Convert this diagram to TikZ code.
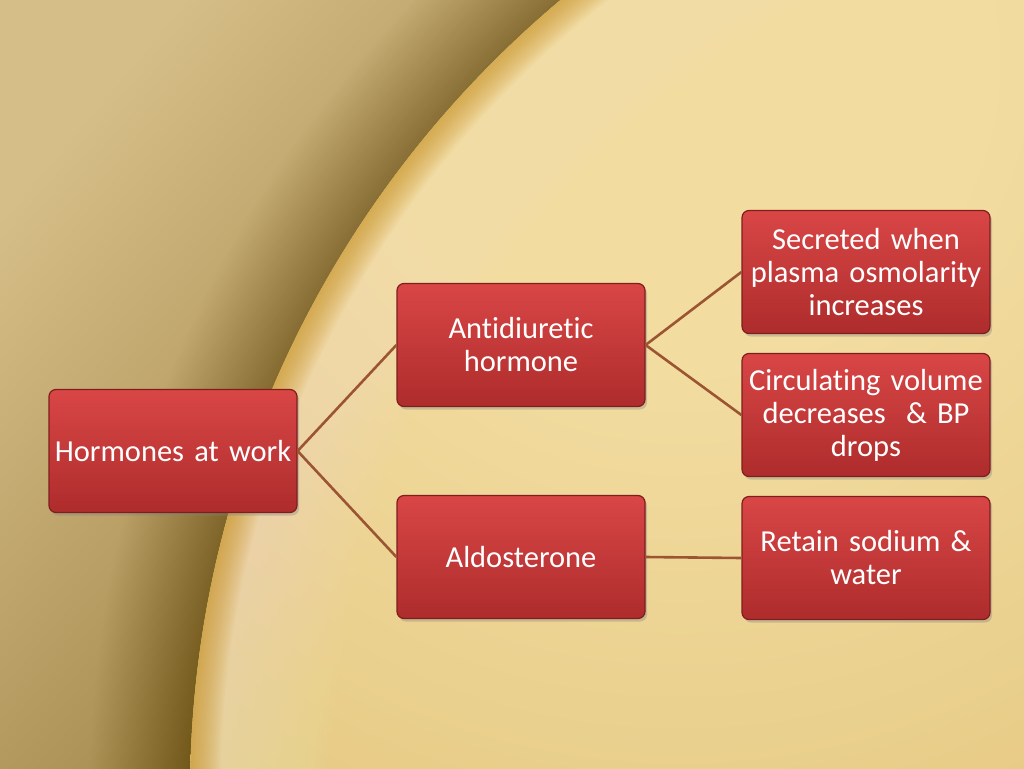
\documentclass[tikz,border=0pt]{standalone}
\usepackage{fontspec}
\setmainfont{Carlito}[Ligatures=NoCommon, WordSpace=0.65]
\usetikzlibrary{shadows}
\definecolor{g0}{HTML}{F2DCA0}
\definecolor{g1}{HTML}{EAD08E}
\definecolor{g2}{HTML}{E0BE70}
\definecolor{g3}{HTML}{D2A94C}
\definecolor{g4}{HTML}{C39630}
\definecolor{leftlight}{HTML}{D6BE88}
\definecolor{leftdark}{HTML}{947838}
\definecolor{shadowbrown}{HTML}{4A300A}
\definecolor{rimlight}{HTML}{FCEDC2}
\definecolor{rimorange}{HTML}{C8901E}
\definecolor{boxtop}{HTML}{D94646}
\definecolor{boxbot}{HTML}{AE2C2C}
\definecolor{boxedge}{HTML}{7E1E1E}
\definecolor{linkcol}{HTML}{9C5533}
\pgfdeclareradialshading{glow}{\pgfpoint{0bp}{0bp}}{color(0bp)=(g0); color(8bp)=(g0); color(18bp)=(g1); color(28bp)=(g2); color(38bp)=(g3); color(50bp)=(g4); color(100bp)=(g4)}
\tikzset{
  hbox/.style={draw=boxedge, line width=1.2pt, rounded corners=7pt,
    top color=boxtop, bottom color=boxbot, text=white,
    minimum width=248pt, minimum height=123pt, inner sep=0pt,
    text width=244pt, align=center,
    font=\fontsize{30.5}{33}\selectfont,
    drop shadow={opacity=0.35, shadow xshift=2pt, shadow yshift=-3pt}},
  link/.style={draw=linkcol, line width=2.6pt}
}
\begin{document}
\begin{tikzpicture}[x=1pt,y=-1pt]
\useasboundingbox (0,0) rectangle (1024,768);
\begin{scope}
  \clip (0,0) rectangle (1024,768);
  \fill[leftdark] (0,0) rectangle (1024,768);
  \shade[shading=axis, top color=leftlight, bottom color=leftdark, shading angle=50] (0,0) rectangle (600,768);
  \foreach \w in {2,4,...,100} {
    \draw[draw=shadowbrown, opacity=0.007, line width=\w pt] (1226,794) circle ({1036+\w/2});
  }
  \begin{scope}
    \clip (1226,794) circle (1036);
    \shade[shading=glow] (680,60) circle (950);
    \foreach \w in {5,10,...,140} {
      \draw[draw=rimlight, opacity=0.035, line width=\w pt] (1226,794) circle ({1036-\w/2});
    }
    \foreach \w in {2,4,...,30} {
      \draw[draw=rimorange, opacity=0.055, line width=\w pt] (1226,794) circle ({1036-\w/2});
    }
  \end{scope}
\end{scope}

\node[hbox] (hw) at (173,451) {Hormones at work};
\node[hbox] (adh) at (521,345) {Antidiuretic\\hormone};
\node[hbox] (ald) at (521,557) {Aldosterone};
\node[hbox] (sec) at (866,272) {Secreted when\\plasma osmolarity\\increases};
\node[hbox] (circ) at (866,415) {Circulating volume\\decreases\ \ \& BP\\drops};
\node[hbox] (ret) at (866,558) {Retain sodium \&\\water};

\draw[link] (hw.east) -- (adh.west);
\draw[link] (hw.east) -- (ald.west);
\draw[link] (adh.east) -- (sec.west);
\draw[link] (adh.east) -- (circ.west);
\draw[link] (ald.east) -- (ret.west);
\end{tikzpicture}
\end{document}
